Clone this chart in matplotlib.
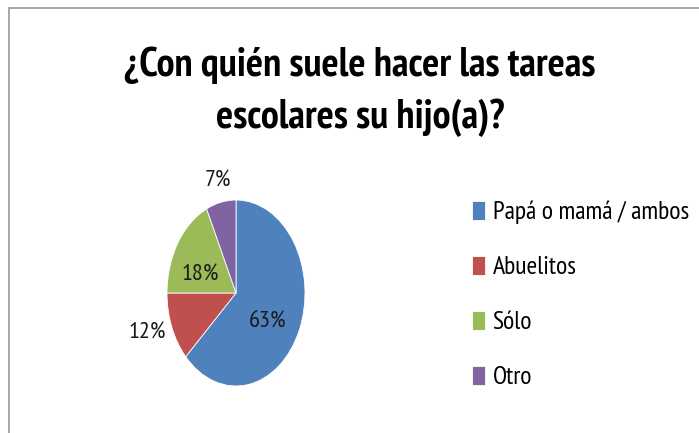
import numpy as np
import matplotlib.pyplot as plt
from matplotlib.patches import Rectangle

plt.rcParams['font.family'] = ['PT Sans Narrow', 'Carlito', 'DejaVu Sans']

labels = ['Papá o mamá / ambos', 'Abuelitos', 'Sólo', 'Otro']
sizes = [63, 12, 18, 7]
colors = ['#4F81BD', '#C0504D', '#9BBB59', '#8064A2']
title = '¿Con quién suele hacer las tareas\nescolares su hijo(a)?'

fig = plt.figure(figsize=(6.99, 4.33), dpi=100)

# gray chart frame (top and left edge visible)
fig.add_artist(Rectangle((9/699, -0.1), 1.2, 1 - 8/433 + 0.1, transform=fig.transFigure,
                         fill=False, edgecolor='#9a9a9a', linewidth=1.2))

fig.text(360/699, 1 - 92/433, title, ha='center', va='center', fontsize=29, fontweight='bold',
         linespacing=1.5)

# elliptical pie: axes is taller than wide
ax = fig.add_axes([(236 - 69)/699, (433 - 293 - 93)/433, 138/699, 186/433])
wedges, texts, autotexts = ax.pie(sizes, colors=colors, startangle=90, counterclock=False,
                                  autopct='%1.0f%%', textprops={'fontsize': 17.5},
                                  wedgeprops={'edgecolor': 'white', 'linewidth': 0.6})
ax.set_aspect('auto')
ax.set_xlim(-1, 1)
ax.set_ylim(-1, 1)

# label placement: radius and angle shift from the slice middle
dist = [0.55, 1.36, 0.55, 1.23]
shift = [-11, -3, 12, 0]
for w, t, d, s in zip(wedges, autotexts, dist, shift):
    ang = np.deg2rad((w.theta1 + w.theta2) / 2 + s)
    t.set_position((d * np.cos(ang), d * np.sin(ang)))
    t.set_color('#1a1a1a')

fig.legend(wedges, labels, loc='upper left', bbox_to_anchor=(472/699, 1 - 201/433),
           frameon=False, fontsize=18.5, handlelength=0.5, handleheight=0.75,
           handletextpad=0.3, labelspacing=1.23, borderpad=0, borderaxespad=0)

fig.savefig('out.png', dpi=100)
